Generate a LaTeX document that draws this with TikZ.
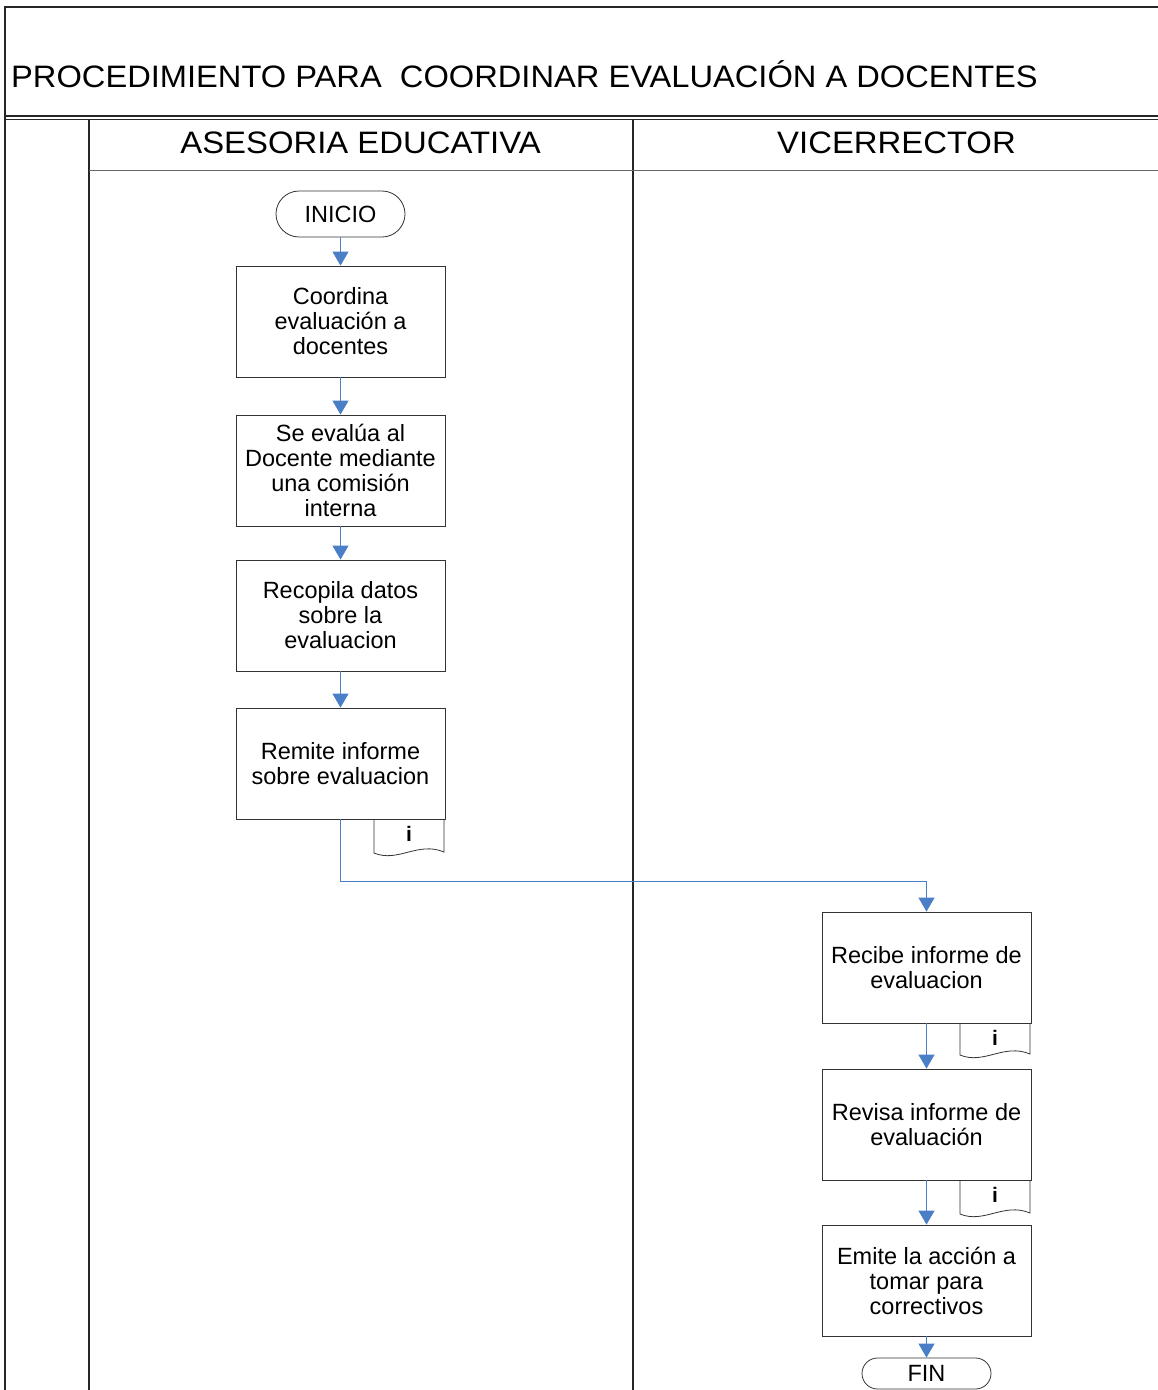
\documentclass[tikz,border=0pt]{standalone}
\usepackage{fontspec}
\setmainfont{Liberation Sans}
\usetikzlibrary{arrows.meta,shapes.misc}
\definecolor{flow}{HTML}{4A7EC6}
\newcommand{\widetext}[1]{\scalebox{1.06}[1]{#1}}
\begin{document}
\begin{tikzpicture}[x=1pt,y=-1pt,
  frame/.style={draw=black!85, line width=1.1pt},
  proc/.style={draw=black!80, line width=0.8pt, minimum width=209pt, minimum height=111pt, align=center, font=\fontsize{23.5}{25}\selectfont, inner sep=0pt},
  term/.style={draw=black!80, line width=0.8pt, rounded rectangle, minimum width=129pt, minimum height=46pt, font=\fontsize{23.5}{25}\selectfont, inner sep=0pt},
  flowline/.style={draw=flow, line width=0.9pt, -{Triangle[length=14pt,width=16pt]}},
  docsym/.style={draw=black!80, line width=0.8pt},
  docmark/.style={font=\bfseries\fontsize{21}{21}\selectfont, inner sep=0pt},
  headtext/.style={inner sep=0pt, font=\fontsize{31}{36}\selectfont},
]
\useasboundingbox (0,0) rectangle (1158,1390);
% frame
\draw[frame] (5,1390) -- (5,7) -- (1158,7);
\draw[frame] (5,116) -- (1158,116);
\draw[frame] (5,119.5) -- (1158,119.5);
\draw[frame] (89,119.5) -- (89,1390);
\draw[frame] (633,119.5) -- (633,1390);
\draw[draw=black!60, line width=1pt] (89,170) -- (1158,170);
% titles
\node[headtext, anchor=base west] (title) at (11,87.5) {\scalebox{1.053}[1]{PROCEDIMIENTO PARA\ \ COORDINAR EVALUACIÓN A DOCENTES}};
\node[headtext, anchor=base] (lane1) at (360.5,153.5) {\widetext{ASESORIA EDUCATIVA}};
\node[headtext, anchor=base] (lane2) at (896.5,153.5) {\widetext{VICERRECTOR}};
% nodes
\node[term] (inicio) at (340.5,214) {INICIO};
\node[proc] (b1) at (340.5,321.5) {Coordina\\evaluación a\\docentes};
\node[proc] (b2) at (340.5,470.5) {Se evalúa al\\Docente mediante\\una comisión\\interna};
\node[proc] (b3) at (340.5,615.5) {Recopila datos\\sobre la\\evaluacion};
\node[proc] (b4) at (340.5,763.5) {Remite informe\\sobre evaluacion};
\node[proc] (b5) at (926.5,967.5) {Recibe informe de\\evaluacion};
\node[proc] (b6) at (926.5,1124.5) {Revisa informe de\\evaluación};
\node[proc] (b7) at (926.5,1280.5) {Emite la acción a\\tomar para\\correctivos};
\node[term, minimum height=31pt] (fin) at (926.5,1373.5) {FIN};
% document symbols
\draw[docsym] (374,819) -- (374,853) .. controls (398,863) and (418,841) .. (444,852) -- (444,819);
\node[docmark] (d1) at (409,834) {i};
\draw[docsym] (960,1023) -- (960,1055) .. controls (984,1065) and (1004,1043) .. (1030,1054) -- (1030,1023);
\node[docmark] (d2) at (995,1038) {i};
\draw[docsym] (960,1180) -- (960,1214) .. controls (984,1224) and (1004,1202) .. (1030,1213) -- (1030,1180);
\node[docmark] (d3) at (995,1195) {i};
% connectors
\coordinate (bend) at (926.5,881);
\draw[flowline] (inicio) -- (b1);
\draw[flowline] (b1) -- (b2);
\draw[flowline] (b2) -- (b3);
\draw[flowline] (b3) -- (b4);
\draw[flowline] (b4.south) |- (bend) -- (b5.north);
\draw[flowline] (b5) -- (b6);
\draw[flowline] (b6) -- (b7);
\draw[flowline] (b7) -- (fin);
\end{tikzpicture}
\end{document}
